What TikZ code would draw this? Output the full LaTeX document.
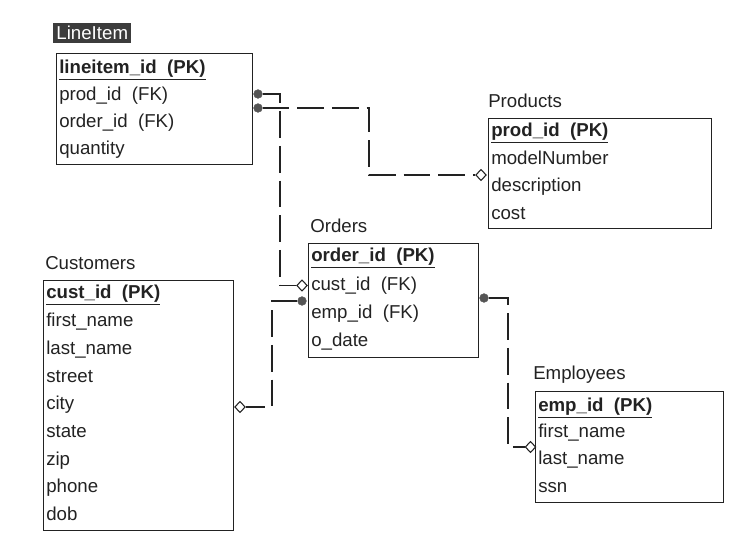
\documentclass[tikz,border=0pt]{standalone}
\usepackage{fontspec}
\setmainfont{Liberation Sans}
\usetikzlibrary{shapes.geometric}
\definecolor{ink}{HTML}{222222}
\definecolor{dotc}{HTML}{555555}
\definecolor{labbg}{HTML}{3C3C3C}
\begin{document}
\begin{tikzpicture}[x=0.75pt,y=-0.75pt,
  tbl/.style={draw=ink, line width=1.1pt, anchor=north west, inner sep=0pt},
  row/.style={anchor=west, inner sep=0pt, text=ink, text height=10pt, text depth=3pt, font=\fontsize{14}{16}\selectfont},
  pk/.style={row, font=\fontsize{14}{16}\selectfont\bfseries},
  ttl/.style={anchor=west, inner sep=0pt, text=ink, text height=10pt, text depth=3pt, font=\fontsize{14}{16}\selectfont},
  dot/.style={circle, fill=dotc, draw=dotc, inner sep=0pt, minimum size=6.5pt},
  dia/.style={diamond, draw=ink, fill=white, inner sep=0pt, minimum width=8pt, minimum height=8.5pt, line width=0.8pt},
  rel/.style={draw=ink, line width=1.1pt, dash pattern=on 20pt off 6pt}]
\useasboundingbox (0,0) rectangle (731,541);

% LineItem
\node[fill=labbg, text=white, anchor=north west, inner sep=0pt, minimum width=58.5pt, minimum height=15pt, font=\fontsize{14}{16}\selectfont] (lilab) at (53,23) {LineItem};
\node[tbl, minimum width=147pt, minimum height=83.25pt] (li) at (56,53) {};
\node[pk] (li1) at (59,69) {\underline{lineitem\_id\ \ (PK)}};
\node[row] (li2) at (59,96) {prod\_id\ \ (FK)};
\node[row] (li3) at (59,123) {order\_id\ \ (FK)};
\node[row] (li4) at (59,150) {quantity};

% Products
\node[ttl] (prlab) at (488,103) {Products};
\node[tbl, minimum width=167.25pt, minimum height=82.5pt] (pr) at (488,118) {};
\node[pk] (pr1) at (491,132) {\underline{prod\_id\ \ (PK)}};
\node[row] (pr2) at (491,160) {modelNumber};
\node[row] (pr3) at (491,187) {description};
\node[row] (pr4) at (491,215) {cost};

% Orders
\node[ttl] (orlab) at (310,228) {Orders};
\node[tbl, minimum width=127.5pt, minimum height=85.5pt] (or) at (308,243) {};
\node[pk] (or1) at (311,257) {\underline{order\_id\ \ (PK)}};
\node[row] (or2) at (311,286) {cust\_id\ \ (FK)};
\node[row] (or3) at (311,314) {emp\_id\ \ (FK)};
\node[row] (or4) at (311,342) {o\_date};

% Customers
\node[ttl] (culab) at (45,265) {Customers};
\node[tbl, minimum width=142.5pt, minimum height=187.5pt] (cu) at (43,280) {};
\node[pk] (cu1) at (46,294) {\underline{cust\_id\ \ (PK)}};
\node[row] (cu2) at (46,322) {first\_name};
\node[row] (cu3) at (46,350) {last\_name};
\node[row] (cu4) at (46,378) {street};
\node[row] (cu5) at (46,405) {city};
\node[row] (cu6) at (46,433) {state};
\node[row] (cu7) at (46,461) {zip};
\node[row] (cu8) at (46,488) {phone};
\node[row] (cu9) at (46,516) {dob};

% Employees
\node[ttl] (emlab) at (533,375) {Employees};
\node[tbl, minimum width=141pt, minimum height=83.25pt] (em) at (535,391) {};
\node[pk] (em1) at (538,407) {\underline{emp\_id\ \ (PK)}};
\node[row] (em2) at (538,433) {first\_name};
\node[row] (em3) at (538,460) {last\_name};
\node[row] (em4) at (538,488) {ssn};

% relationship end markers
\node[dot] (d1) at (258,94) {};
\node[dot] (d2) at (258,108) {};
\node[dot] (d3) at (302,301) {};
\node[dot] (d4) at (484,298) {};
\node[dia] (p1) at (481,175) {};
\node[dia] (o1) at (302,285.5) {};
\node[dia] (c1) at (240,407) {};
\node[dia] (e1) at (530.5,447) {};

% bends
\coordinate (b1) at (280,94);
\coordinate (b2) at (369,108);
\coordinate (b3) at (272,301);
\coordinate (b4) at (508,298);

\draw[rel] (d1) -- (b1) |- (o1.west);
\draw[rel] (d2) -- (b2) |- (p1.west);
\draw[rel] (d3) -- (b3) |- (c1.east);
\draw[rel] (d4) -- (b4) |- (e1.west);
\end{tikzpicture}
\end{document}
